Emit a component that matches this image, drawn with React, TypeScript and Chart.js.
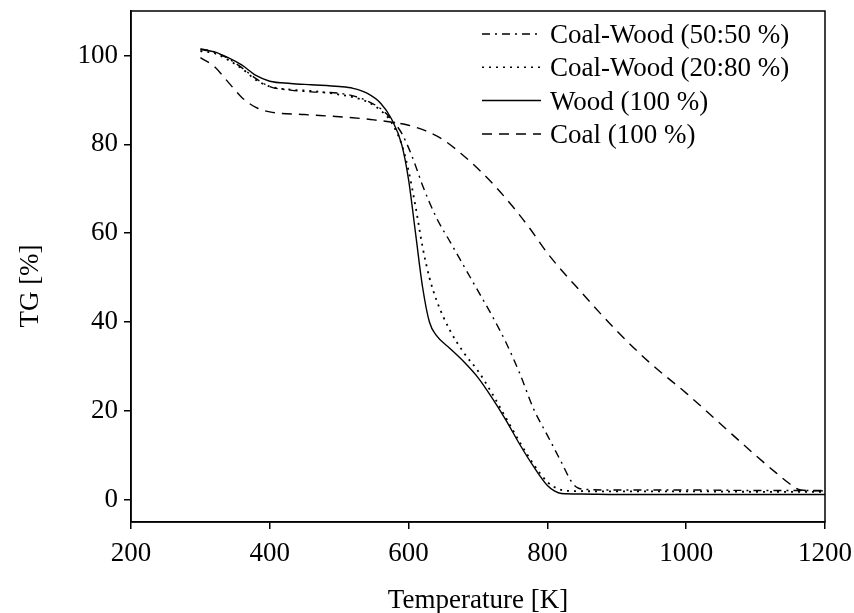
import React, { useEffect, useRef } from "react";
import { Chart, registerables } from "chart.js";

Chart.register(...registerables);

const xTicks = [200, 400, 600, 800, 1000, 1200];
const yTicks = [0, 20, 40, 60, 80, 100];

const seriesLabels = ["Coal-Wood (50:50 %)", "Coal-Wood (20:80 %)", "Wood (100 %)", "Coal (100 %)"];

const mix5050T = [300, 320, 340, 360, 380, 400, 430, 460, 500, 520, 540, 560, 575, 590, 600, 610, 620, 640, 660, 680, 700, 720, 740, 760, 780, 800, 820, 835, 845, 860, 900, 1000, 1100, 1200];
const mix5050TG = [101.5, 100.8, 99.3, 97.2, 94.8, 93, 92.2, 91.8, 91.5, 90.9, 89.8, 88, 85.7, 82.5, 79.2, 75.2, 70.8, 63.5, 58, 52.5, 47, 41.5, 35.5, 28.5, 20.5, 14.5, 8.5, 4, 2.6, 2.3, 2.2, 2.2, 2.1, 2.1];

const mix2080T = [300, 320, 340, 360, 380, 400, 430, 460, 500, 520, 540, 560, 575, 590, 600, 610, 620, 630, 640, 660, 680, 700, 720, 740, 760, 780, 800, 815, 830, 900, 1000, 1100, 1200];
const mix2080TG = [101, 100.5, 99, 97, 94.5, 93, 92.3, 92, 91.2, 90.6, 89.6, 87.6, 85, 80, 74, 66, 57, 50, 45, 38, 33, 29, 24, 18.5, 13, 8, 4, 2.5, 2.0, 1.9, 1.9, 1.8, 1.8];

const woodT = [300, 320, 340, 360, 380, 400, 430, 460, 500, 520, 540, 560, 575, 590, 600, 610, 620, 630, 640, 660, 680, 700, 720, 740, 760, 780, 800, 810, 820, 850, 900, 1000, 1100, 1200];
const woodTG = [101.3, 100.8, 99.5, 97.8, 95.5, 94.2, 93.7, 93.4, 93.0, 92.6, 91.5, 89.2, 85.8, 80, 72, 60, 48, 40, 37, 34, 31, 27.5, 23, 18, 12.5, 7.5, 3.2, 2.0, 1.4, 1.3, 1.2, 1.2, 1.2, 1.2];

const coalT = [300, 320, 340, 360, 380, 400, 450, 500, 550, 600, 625, 650, 675, 700, 725, 750, 775, 800, 850, 900, 950, 1000, 1050, 1100, 1130, 1150, 1165, 1200];
const coalTG = [99.5, 97.5, 94, 90.5, 88.3, 87.3, 86.7, 86.2, 85.5, 84.3, 83, 81, 78, 74.5, 70.5, 66, 61, 55.5, 46.5, 38, 30.5, 24, 17, 10, 6, 3.5, 2.2, 2.0];

const dashes = [[8, 5, 2, 5], [2, 5], [], [10, 7]];

const FONT = '"Liberation Serif", "Times New Roman", serif';

const pts = (t: number[], v: number[]) => t.map((x, i) => ({ x, y: v[i] }));

const decor = {
  id: "decor",
  afterDraw(chart: any) {
    const { ctx, chartArea: a } = chart;
    ctx.save();
    ctx.strokeStyle = "#000";
    ctx.lineWidth = 1.5;
    ctx.setLineDash([]);
    ctx.strokeRect(a.left, a.top, a.right - a.left, a.bottom - a.top);

    ctx.font = `27px ${FONT}`;
    ctx.fillStyle = "#000";
    ctx.textAlign = "left";
    ctx.textBaseline = "alphabetic";
    chart.data.datasets.forEach((ds: any, i: number) => {
      const by = a.top + 32 + i * 33.3;
      ctx.setLineDash(ds.borderDash || []);
      ctx.lineWidth = 1.5;
      ctx.beginPath();
      ctx.moveTo(a.right - 343, by - 9);
      ctx.lineTo(a.right - 284, by - 9);
      ctx.stroke();
      ctx.setLineDash([]);
      ctx.fillText(ds.label, a.right - 275, by);
    });

    ctx.textAlign = "center";
    ctx.fillText("Temperature [K]", (a.left + a.right) / 2, 608);

    ctx.translate(38, 286);
    ctx.rotate(-Math.PI / 2);
    ctx.fillText("TG [%]", 0, 0);
    ctx.restore();
  },
};

export default function App() {
  const ref = useRef<HTMLCanvasElement>(null);
  useEffect(() => {
    if (!ref.current) return;
    const series = [pts(mix5050T, mix5050TG), pts(mix2080T, mix2080TG), pts(woodT, woodTG), pts(coalT, coalTG)];
    const chart = new Chart(ref.current, {
      type: "line",
      data: {
        datasets: series.map((d, i) => ({
          label: seriesLabels[i],
          data: d,
          borderColor: "#000",
          borderWidth: i === 1 ? 1.8 : 1.4,
          borderDash: dashes[i],
          pointRadius: 0,
          fill: false,
          cubicInterpolationMode: "monotone" as const,
        })),
      },
      options: {
        animation: false,
        responsive: true,
        maintainAspectRatio: false,
        layout: { padding: { left: 0, right: 29, top: 11, bottom: 0 } },
        plugins: { legend: { display: false }, tooltip: { enabled: false } },
        scales: {
          x: {
            type: "linear",
            min: 200,
            max: 1200,
            afterBuildTicks: (s: any) => { s.ticks = xTicks.map((v) => ({ value: v })); },
            afterFit: (s: any) => { s.height = 91; s.paddingLeft = 0; s.paddingRight = 0; },
            grid: { drawOnChartArea: false, drawTicks: true, tickLength: 7, color: "#000", lineWidth: 1.5 },
            border: { display: true, color: "#000", width: 1.5 },
            ticks: { color: "#000", font: { family: FONT, size: 27 }, padding: 9, maxRotation: 0, autoSkip: false, callback: (v: any) => String(v) },
          },
          y: {
            type: "linear",
            min: -5,
            max: 110,
            afterBuildTicks: (s: any) => { s.ticks = yTicks.map((v) => ({ value: v })); },
            afterFit: (s: any) => { s.width = 131; s.paddingTop = 0; s.paddingBottom = 0; },
            grid: { drawOnChartArea: false, drawTicks: true, tickLength: 7, color: "#000", lineWidth: 1.5 },
            border: { display: true, color: "#000", width: 1.5 },
            ticks: { color: "#000", font: { family: FONT, size: 27 }, padding: 6, autoSkip: false, callback: (v: any) => String(v) },
          },
        },
      },
      plugins: [decor],
    });
    return () => chart.destroy();
  }, []);
  return (
    <div style={{ position: "fixed", left: 0, top: 0, width: 854, height: 613, background: "#fff" }}>
      <canvas ref={ref} />
    </div>
  );
}
